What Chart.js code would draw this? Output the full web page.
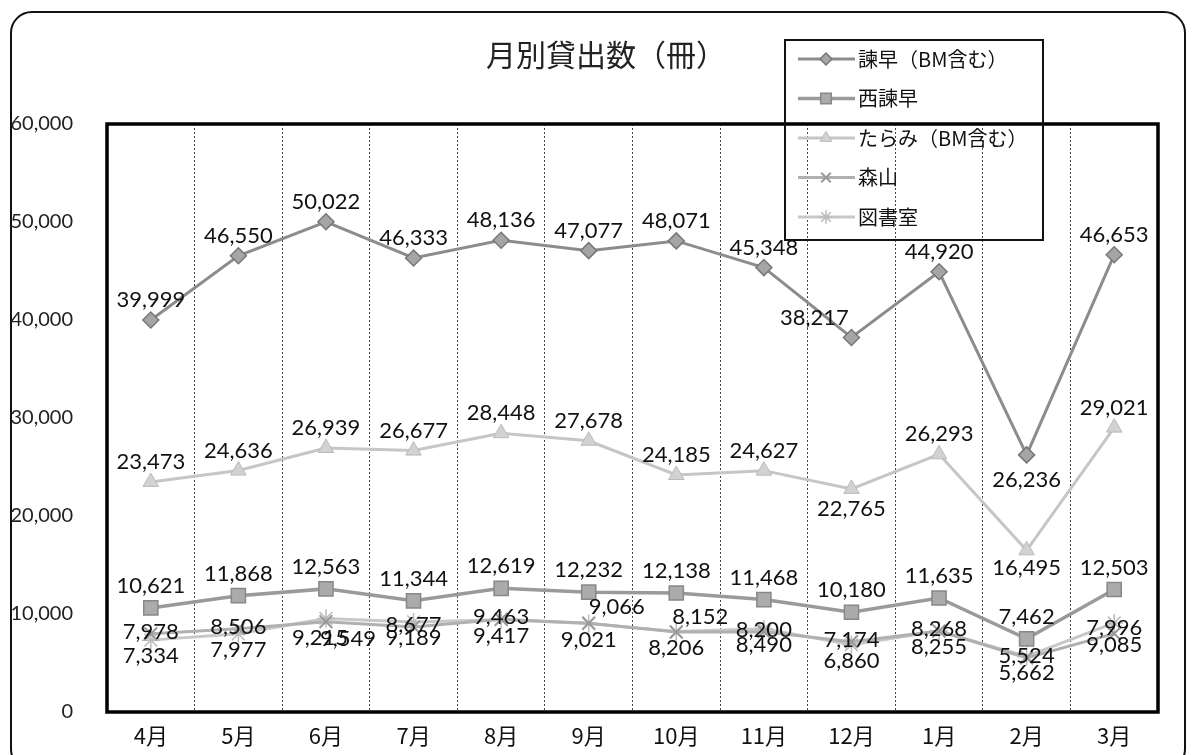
<!DOCTYPE html>
<html>
<head>
<meta charset="utf-8">
<script src="https://cdn.jsdelivr.net/npm/chart.js@4/dist/chart.umd.min.js"></script>
<style>
  html, body { margin:0; padding:0; background:#fff; overflow:hidden; }
  #wrap { position:relative; width:1194px; height:755px; }
  #frame { position:absolute; left:10px; top:11px; width:1176px; height:760px;
           border:2px solid #111; border-radius:22px; box-sizing:border-box; }
  canvas { position:absolute; left:0; top:0; }
</style>
</head>
<body>
<div id="wrap">
  <div id="frame"></div>
  <canvas id="myChart" width="1194" height="755"></canvas>
</div>
<script>
// データ
const months      = ['4月','5月','6月','7月','8月','9月','10月','11月','12月','1月','2月','3月']
const isahaya     = [39999, 46550, 50022, 46333, 48136, 47077, 48071, 45348, 38217, 44920, 26236, 46653]
const nishiIsahaya= [10621, 11868, 12563, 11344, 12619, 12232, 12138, 11468, 10180, 11635, 7462, 12503]
const tarami      = [23473, 24636, 26939, 26677, 28448, 27678, 24185, 24627, 22765, 26293, 16495, 29021]
const moriyama    = [7978, 8506, 9215, 8677, 9463, 9066, 8152, 8200, 7174, 8268, 5524, 7996]
const toshoshitsu = [7334, 7977, 9549, 9189, 9417, 9021, 8206, 8490, 6860, 8255, 5662, 9085]
const yTicks      = [0, 10000, 20000, 30000, 40000, 50000, 60000]

const seriesNames = ['諫早（BM含む）', '西諫早', 'たらみ（BM含む）', '森山', '図書室']

// ラベル位置 (シリーズごとの基本ずれ + 個別調整)
const labelDy = [-20, -22, -20, -2, 16]
const labelFix = {
  '0-8': [-37, -20], '0-10': [0, 25],
  '2-8': [0, 20], '2-10': [0, 18],
  '3-2': [-6, 16], '3-5': [28, -16], '3-6': [24, -15], '3-11': [0, -6],
  '4-2': [22, 20], '4-11': [0, 22]
}

const fmt = v => v.toLocaleString('en-US')

// データラベル
const labelPlugin = {
  id: 'labels',
  afterDatasetsDraw(chart) {
    const ctx = chart.ctx
    ctx.save()
    ctx.font = '22px Lato'
    ctx.fillStyle = '#111'
    ctx.textAlign = 'center'
    ctx.textBaseline = 'middle'
    chart.data.datasets.forEach((ds, d) => {
      chart.getDatasetMeta(d).data.forEach((pt, i) => {
        let f = labelFix[d + '-' + i] || [0, labelDy[d]]
        ctx.fillText(fmt(ds.data[i]), pt.x + f[0], pt.y + f[1])
      })
    })
    ctx.restore()
  }
}

// 枠、タイトル、凡例
const deco = {
  id: 'deco',
  afterDraw(chart) {
    const ctx = chart.ctx
    const a = chart.chartArea
    ctx.save()
    ctx.strokeStyle = '#000'
    ctx.lineWidth = 3.5
    ctx.strokeRect(a.left, a.top, a.right - a.left, a.bottom - a.top)

    ctx.fillStyle = '#222'
    ctx.font = '30px "Noto Sans CJK JP"'
    ctx.textAlign = 'center'
    ctx.textBaseline = 'middle'
    ctx.fillText('月別貸出数（冊）', 606, 55)

    // 凡例
    ctx.lineWidth = 2
    ctx.strokeStyle = '#111'
    ctx.strokeRect(785, 40, 258, 200)
    ctx.font = '20px "Noto Sans CJK JP"'
    ctx.textAlign = 'left'
    chart.data.datasets.forEach((ds, d) => {
      let y = 59 + d * 39.5
      ctx.strokeStyle = ds.borderColor
      ctx.lineWidth = ds.borderWidth
      ctx.beginPath(); ctx.moveTo(798, y); ctx.lineTo(855, y); ctx.stroke()
      ctx.fillStyle = ds.pointBackgroundColor
      ctx.strokeStyle = ds.pointBorderColor
      ctx.lineWidth = ds.pointBorderWidth
      Chart.helpers.drawPoint(ctx, {
        pointStyle: ds.pointStyle, radius: ds.pointRadius * 0.75, rotation: 0,
        borderWidth: ds.pointBorderWidth
      }, 826, y)
      ctx.fillStyle = '#111'
      ctx.fillText(seriesNames[d], 858, y)
    })
    ctx.restore()
  }
}

var ctx = document.getElementById('myChart').getContext('2d')

var chart = new Chart(ctx, {
  type: 'line',
  data: {
    labels: months,
    datasets: [
      { label: seriesNames[0], data: isahaya, borderColor: '#8c8c8c', borderWidth: 3,
        pointStyle: 'rectRot', pointRadius: 8, pointBackgroundColor: '#a5a5a5', pointBorderColor: '#777', pointBorderWidth: 1.5 },
      { label: seriesNames[1], data: nishiIsahaya, borderColor: '#9a9a9a', borderWidth: 3.5,
        pointStyle: 'rect', pointRadius: 10, pointBackgroundColor: '#ababab', pointBorderColor: '#888', pointBorderWidth: 1.5 },
      { label: seriesNames[2], data: tarami, borderColor: '#c6c6c6', borderWidth: 3,
        pointStyle: 'triangle', pointRadius: 9, pointBackgroundColor: '#d2d2d2', pointBorderColor: '#bbb', pointBorderWidth: 1 },
      { label: seriesNames[3], data: moriyama, borderColor: '#b0b0b0', borderWidth: 3,
        pointStyle: 'crossRot', pointRadius: 9, pointBackgroundColor: '#999', pointBorderColor: '#999', pointBorderWidth: 2 },
      { label: seriesNames[4], data: toshoshitsu, borderColor: '#c8c8c8', borderWidth: 3,
        pointStyle: 'star', pointRadius: 9, pointBackgroundColor: '#bbb', pointBorderColor: '#bbb', pointBorderWidth: 1.5 }
    ]
  },
  options: {
    responsive: false,
    animation: false,
    devicePixelRatio: 1,
    layout: { padding: { top: 124, right: 36, left: 0, bottom: 0 } },
    plugins: { legend: { display: false }, title: { display: false }, tooltip: { enabled: false } },
    elements: { line: { tension: 0 } },
    scales: {
      x: {
        offset: true,
        grid: { offset: true, color: '#444', lineWidth: 1, drawTicks: false },
        border: { display: false, dash: [2, 2] },
        ticks: { color: '#111', font: { family: 'Noto Sans CJK JP', size: 22 }, padding: 10 },
        afterFit: s => { s.height = 43 }
      },
      y: {
        min: 0, max: yTicks[yTicks.length - 1],
        afterBuildTicks: s => { s.ticks = yTicks.map(v => ({ value: v })) },
        grid: { display: false },
        border: { display: false },
        ticks: { color: '#222', font: { family: 'Lato', size: 20 }, padding: 26, callback: v => fmt(v) },
        afterFit: s => { s.width = 107 }
      }
    }
  },
  plugins: [labelPlugin, deco]
})
</script>
</body>
</html>
